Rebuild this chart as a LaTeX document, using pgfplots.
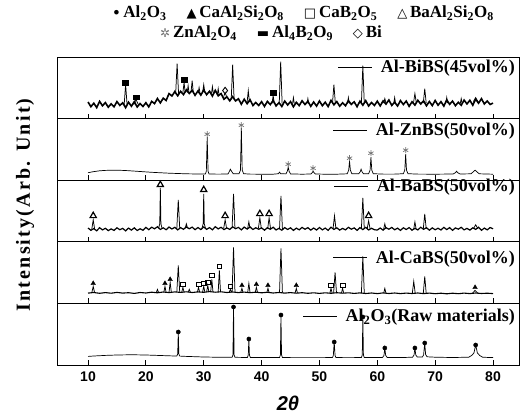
\documentclass[border=0pt]{standalone}
\usepackage{fontspec}
\setmainfont{Liberation Serif}
\newfontfamily\sans{Liberation Sans}
\newfontfamily\sym{DejaVu Sans}
\usepackage{pgfplots}
\pgfplotsset{compat=1.18}

\newcommand{\sy}[1]{{\sym\fontsize{13}{13}\selectfont #1}}

\pgfplotsset{
  panel/.style={
    scale only axis, width=462pt, height=61.6pt, anchor=south west,
    xmin=4.64, xmax=84.49, ymin=0, ymax=61.6,
    xtick={10,20,...,80}, xticklabels={}, ytick=\empty,
    xtick pos=bottom, tick align=inside, major tick length=5pt,
    tick style={black, line width=0.8pt},
    axis line style={line width=0.9pt},
    clip=false,
    legend style={at={(1,1)}, anchor=north east, xshift=-4pt,
      draw=none, fill=none, inner sep=0pt, column sep=8pt,
      nodes={inner sep=0pt},
      font=\bfseries\fontsize{18}{20}\selectfont},
    legend image code/.code={\draw[black, line width=0.7pt] (0pt,0pt) -- (34pt,0pt);},
  },
  dat/.style={black, line width=0.7pt, mark=none},
  pk/.style={black, line width=0.75pt, mark=none, unbounded coords=jump, forget plot},
  mAl/.style={only marks, mark=*, mark size=2.1pt, black, forget plot},
  mCa/.style={only marks, mark=triangle*, mark size=2.6pt, black, forget plot},
  mCaB/.style={only marks, mark=square, mark size=2.4pt, black, line width=0.8pt, fill=white, forget plot},
  mBa/.style={only marks, mark=triangle, mark size=3.6pt, black, line width=1.2pt, fill=white, forget plot},
  mZn/.style={only marks, mark=asterisk, mark size=3pt, black!55, line width=0.7pt, forget plot},
  mAlB/.style={only marks, mark=square*, mark size=3pt, black, forget plot,
    every mark/.append style={yscale=0.75}},
  mBi/.style={only marks, mark=diamond, mark size=3.3pt, black, line width=0.9pt, fill=white, forget plot},
}

\begin{document}
\begin{tikzpicture}
\path (0pt,0pt) rectangle (522pt,416pt);

% legend of phases
\node[font=\bfseries\fontsize{17}{20}\selectfont] at (303pt,403pt)
  {\sy{•}\,Al\textsubscript{2}O\textsubscript{3}\hspace{20pt}\sy{▲}\,CaAl\textsubscript{2}Si\textsubscript{2}O\textsubscript{8}\hspace{20pt}\sy{□}\,CaB\textsubscript{2}O\textsubscript{5}\hspace{20pt}\sy{△}\,BaAl\textsubscript{2}Si\textsubscript{2}O\textsubscript{8}};
\node[font=\bfseries\fontsize{17}{20}\selectfont] at (271pt,383pt)
  {{\sym\fontsize{12}{12}\selectfont\color{black!55}✲}\,ZnAl\textsubscript{2}O\textsubscript{4}\hspace{20pt}\sy{▬}\,Al\textsubscript{4}B\textsubscript{2}O\textsubscript{9}\hspace{20pt}\sy{◇}\,Bi};

\node[rotate=90, font={\fontsize{20}{24}\selectfont\bfseries\addfontfeatures{LetterSpace=11}}] at (25pt,211pt) {Intensity(Arb. Unit)};
\node[font={\sans\bfseries\itshape\fontsize{20}{24}\selectfont}] at (288pt,13pt) {2θ};

% ---------- Al2O3 raw ----------
\begin{axis}[panel, at={(57pt,51pt)},
  xticklabels={10,20,30,40,50,60,70,80},
  xticklabel style={font=\sans\bfseries\fontsize{14}{16}\selectfont, yshift=-3pt},
  legend style={yshift=-5.7pt}]
\addplot[dat] coordinates {
(10,8.6)(11,9.0)(12,9.3)(13,9.6)(14,9.8)(15,10.0)(16,10.1)(17,10.2)(18,10.2)(19,10.1)
(20,10.0)(21,9.8)(22,9.6)(23,9.4)(24,9.2)(25,9.0)(25.35,9.0)(25.5,11)(25.6,33)(25.7,11)(25.85,8.9)
(27,8.6)(28,8.4)(29,8.2)(30,8.0)(31,7.9)(32,7.8)(33,7.7)(34,7.7)(34.9,7.7)(35.05,10)(35.15,58)(35.25,10)(35.4,7.7)
(36.5,7.6)(37.55,7.6)(37.7,10)(37.8,26)(37.9,10)(38.05,7.6)(39,7.5)(40,7.5)(41,7.5)(42,7.5)
(43.1,7.5)(43.25,10)(43.35,50)(43.45,10)(43.6,7.5)(45,7.4)(47,7.4)(49,7.4)(51,7.4)
(52.25,7.5)(52.4,9.5)(52.55,23)(52.7,9.5)(52.85,7.5)(54,7.4)(56,7.4)
(57.25,7.5)(57.4,10)(57.5,48)(57.6,10)(57.75,7.5)(59,7.4)(60.9,7.6)(61.15,9.5)(61.3,17)(61.45,9.5)(61.7,7.6)
(63,7.5)(65,7.6)(66.1,7.8)(66.35,10)(66.5,17)(66.65,10)(66.9,8.0)(67.8,8.1)(68.0,10)(68.2,22)(68.35,10.5)(68.6,8.2)
(70,7.8)(72,7.6)(74,7.6)(75.8,7.8)(76.3,9.5)(76.7,12)(77.0,20)(77.3,12)(77.7,9.5)(78.2,7.8)(79,7.6)(80,7.6)
};
\addlegendentry{Al\textsubscript{2}O\textsubscript{3}(Raw materials)}
\addplot[mAl] coordinates {(25.6,33)(35.15,58)(37.8,26)(43.35,50)(52.55,23)(57.5,48)(61.3,17)(66.5,17)(68.2,22)(77.0,20)};
\end{axis}

% ---------- Al-CaBS ----------
\begin{axis}[panel, at={(57pt,112.6pt)}, legend style={yshift=-8.7pt}]
\addplot[dat, line width=1.1pt] coordinates {
(10,10.3)(11,10.9)(12,10.1)(13,10.8)(14,10.2)(15,11.0)(16,10.3)(17,10.7)(18,10.0)(19,10.9)
(20,10.4)(21,11.2)(22,10.6)(23,11.4)(24,10.8)(25,11.5)(26,11.0)(27,11.6)(28,10.9)(29,11.5)
(30,11.1)(31,11.8)(32,11.2)(33,11.6)(34,10.9)(35,11.4)(36,10.8)(37,11.3)(38,10.7)(39,11.2)
(40,10.6)(41,11.1)(42,10.4)(43,10.9)(44,10.3)(45,10.8)(46,10.2)(47,10.7)(48,10.1)(49,10.6)
(50,10.0)(51,10.6)(52,10.1)(53,10.7)(54,10.2)(55,10.6)(56,10.0)(57,10.5)(58,9.9)(59,10.4)
(60,9.8)(61,10.5)(62,9.9)(63,10.4)(64,9.8)(65,10.3)(66,9.9)(67,10.4)(68,9.8)(69,10.3)
(70,9.7)(71,10.2)(72,9.6)(73,10.2)(74,9.7)(75,10.3)(76,9.8)(77,10.4)(78,9.9)(79,10.2)(80,9.8)
};
\addlegendentry{Al-CaBS(50vol\%)}
\addplot[pk] coordinates {
(10.65,10.5)(10.9,17)(11.15,10.5)(10.9,nan)
(21.8,10.8)(22.0,14)(22.2,10.8)(22.0,nan)
(23.1,11)(23.3,17)(23.5,11)(23.3,nan)
(24.0,11)(24.2,21)(24.4,11)(24.2,nan)
(25.35,11.2)(25.6,38)(25.85,11.2)(25.6,nan)
(26.2,11.2)(26.4,16)(26.6,11.2)(26.4,nan)
(27.3,11.2)(27.5,14)(27.7,11.2)(27.5,nan)
(28.9,11.3)(29.1,16)(29.3,11.3)(29.1,nan)
(29.8,11.3)(30.0,17)(30.2,11.3)(30.0,nan)
(30.5,11.4)(30.7,18)(30.9,11.4)(30.7,nan)
(31.2,11.4)(31.4,24)(31.6,11.4)(31.4,nan)
(32.5,11.4)(32.7,33)(32.9,11.4)(32.7,nan)
(34.4,11.2)(34.6,14)(34.8,11.2)(34.6,nan)
(34.9,11.2)(35.15,56)(35.4,11.2)(35.15,nan)
(36.4,11)(36.6,15)(36.8,11)(36.6,nan)
(37.6,11)(37.8,20)(38.0,11)(37.8,nan)
(38.9,11)(39.1,16)(39.3,11)(39.1,nan)
(40.9,10.8)(41.1,15)(41.3,10.8)(41.1,nan)
(43.1,10.7)(43.35,55)(43.6,10.7)(43.35,nan)
(45.8,10.5)(46.0,15)(46.2,10.5)(46.0,nan)
(51.8,10.3)(52.0,15)(52.2,10.3)(52.0,nan)
(52.45,10.3)(52.7,31)(52.95,10.3)(52.7,nan)
(53.8,10.3)(54.0,15)(54.2,10.3)(54.0,nan)
(57.25,10.2)(57.5,47)(57.75,10.2)(57.5,nan)
(61.1,10.1)(61.3,15)(61.5,10.1)(61.3,nan)
(66.05,10.1)(66.3,22)(66.55,10.1)(66.3,nan)
(67.95,10.1)(68.2,27)(68.45,10.1)(68.2,nan)
(76.4,10)(76.9,13)(77.4,10)
};
\addplot[mCa] coordinates {(10.9,20)(23.3,20)(24.2,24)(36.6,18)(39.1,19)(41.1,18)(46.0,18)(76.9,16)};
\addplot[mCaB] coordinates {(26.4,19)(29.1,19)(30.0,20)(30.7,21)(31.4,28)(32.7,37)(34.6,17)(52.0,18)(54.0,18)};
\end{axis}

% ---------- Al-BaBS ----------
\begin{axis}[panel, at={(57pt,174.2pt)}, legend style={yshift=1.3pt}]
\addplot[dat, line width=1.2pt] coordinates {
(10.0,13.8)(10.5,11.45)(11.0,13.2)(11.5,11.0)(12.0,14.1)(12.5,11.9)(13.0,13.5)(13.5,11.2)(14.0,12.9)(14.5,11.4)
(15.0,14.0)(15.5,12.1)(16.0,13.4)(16.5,10.95)(17.0,13.7)(17.5,11.7)(18.0,13.95)(18.5,11.3)(19.0,13.05)(19.5,11.55)
(20.0,14.45)(20.5,12.1)(21.0,14.6)(21.5,13.0)(22.0,15.05)(22.5,12.35)(23.0,13.95)(23.5,12.05)(24.0,14.75)(24.5,12.8)
(25.0,14.5)(25.5,11.9)(26.0,14.15)(26.5,12.5)(27.0,14.9)(27.5,13.05)(28.0,14.65)(28.5,12.15)(29.0,14.3)(29.5,12.25)
(30.0,14.8)(30.5,12.45)(31.0,14.2)(31.5,12.0)(32.0,15.1)(32.5,12.9)(33.0,14.5)(33.5,12.2)(34.0,13.9)(34.5,12.4)
(35.0,15.0)(35.5,13.1)(36.0,14.4)(36.5,11.95)(37.0,14.7)(37.5,12.7)(38.0,14.95)(38.5,12.3)(39.0,14.05)(39.5,12.55)
(40.0,13.95)(40.5,11.6)(41.0,14.1)(41.5,12.5)(42.0,14.55)(42.5,11.85)(43.0,13.45)(43.5,11.55)(44.0,14.25)(44.5,12.3)
(45.0,14.0)(45.5,11.4)(46.0,13.65)(46.5,12.0)(47.0,14.4)(47.5,12.55)(48.0,14.15)(48.5,11.65)(49.0,13.8)(49.5,11.75)
(50.0,14.3)(50.5,11.95)(51.0,13.7)(51.5,11.5)(52.0,14.6)(52.5,12.4)(53.0,14.0)(53.5,11.7)(54.0,13.4)(54.5,11.9)
(55.0,14.5)(55.5,12.6)(56.0,13.9)(56.5,11.45)(57.0,14.2)(57.5,12.2)(58.0,14.45)(58.5,11.8)(59.0,13.55)(59.5,12.05)
(60.0,11.75)(60.5,13.8)(61.0,11.65)(61.5,14.15)(62.0,12.55)(62.5,14.4)(63.0,12.0)(63.5,13.65)(64.0,11.4)(64.5,14.0)
(65.0,12.3)(65.5,14.25)(66.0,11.55)(66.5,13.45)(67.0,11.85)(67.5,14.55)(68.0,12.5)(68.5,14.1)(69.0,11.6)(69.5,13.95)
(70.0,12.05)(70.5,13.55)(71.0,11.8)(71.5,14.45)(72.0,12.2)(72.5,14.2)(73.0,11.45)(73.5,13.9)(74.0,12.6)(74.5,14.5)
(75.0,11.9)(75.5,13.4)(76.0,11.7)(76.5,14.0)(77.0,12.4)(77.5,14.6)(78.0,11.5)(78.5,13.7)(79.0,11.95)(79.5,14.3)(80.0,13.0)
};
\addlegendentry{Al-BaBS(50vol\%)}
\addplot[pk] coordinates {
(10.65,12.5)(10.9,22)(11.15,12.5)(10.9,nan)
(22.2,13.5)(22.4,18)(22.5,54)(22.6,18)(22.8,13.5)(22.5,nan)
(25.35,13.5)(25.6,42)(25.85,13.5)(25.6,nan)
(26.8,13.5)(27.0,18)(27.2,13.5)(27.0,nan)
(29.7,13.5)(29.9,18)(30.0,48)(30.1,18)(30.3,13.5)(30.0,nan)
(33.45,13.5)(33.7,22)(33.95,13.5)(33.7,nan)
(34.9,13.5)(35.15,48)(35.4,13.5)(35.15,nan)
(37.6,13.5)(37.8,20)(38.0,13.5)(37.8,nan)
(39.45,13.5)(39.7,24)(39.95,13.5)(39.7,nan)
(41.05,13)(41.3,24)(41.55,13)(41.3,nan)
(43.1,13)(43.35,46)(43.6,13)(43.35,nan)
(52.35,13)(52.6,26)(52.85,13)(52.6,nan)
(57.25,13)(57.5,44)(57.75,13)(57.5,nan)
(58.25,13)(58.5,21)(58.75,13)(58.5,nan)
(61.1,13)(61.3,18)(61.5,13)(61.3,nan)
(66.3,13)(66.5,20)(66.7,13)(66.5,nan)
(67.95,13)(68.2,28)(68.45,13)(68.2,nan)
(76.6,13)(77.0,17)(77.4,13)
};
\addplot[mBa] coordinates {(10.9,26)(22.5,57)(30.0,52)(33.7,26)(39.7,28)(41.3,28)(58.5,26)};
\end{axis}

% ---------- Al-ZnBS ----------
\begin{axis}[panel, at={(57pt,235.8pt)}, legend style={yshift=-4.7pt}]
\addplot[dat] coordinates {
(10,7.5)(11,8.6)(12,9.4)(13,9.8)(14,10.0)(15,10.0)(16,9.8)(17,9.5)(18,9.1)(19,8.7)
(20,8.3)(21,7.9)(22,7.6)(23,7.3)(24,7.0)(25,6.8)(26,6.6)(27,6.4)(28,6.3)(29,6.2)(30,6.1)
(30.3,6.3)(30.45,9)(30.6,43)(30.75,9)(30.9,6.3)(32,6.1)(33,6.1)(34.2,6.3)(34.45,9)(34.6,11)(34.8,9)(35.1,6.4)
(36.1,6.5)(36.35,10)(36.5,52)(36.65,10)(36.9,6.5)(38,6.1)(40,6.0)(42,6.0)(42.9,6.5)(43.1,8)(43.3,6.5)
(44.2,6.3)(44.45,9)(44.6,13)(44.75,9)(45.0,6.3)(47,6.0)(48.5,6.2)(48.75,7.5)(48.9,9)(49.05,7.5)(49.3,6.2)
(51,6.0)(53,6.0)(54.8,6.4)(55.05,10)(55.2,19)(55.35,10)(55.6,6.4)(56.8,6.5)(57.05,8.5)(57.2,11)(57.35,8.5)(57.6,6.5)
(58.5,6.5)(58.75,10)(58.9,23)(59.05,10)(59.3,6.5)(61,6.1)(63,6.1)(64.5,6.5)(64.75,10)(64.9,26)(65.05,10)(65.3,6.5)
(67,6.1)(70,6.0)(73.1,6.2)(73.5,7.5)(73.7,9)(73.9,7.5)(74.3,6.2)(76.2,6.4)(76.6,8.5)(76.9,10)(77.2,8.5)(77.6,6.4)(80,6.0)
};
\addlegendentry{Al-ZnBS(50vol\%)}
\addplot[mZn] coordinates {(30.6,46)(36.5,55)(44.6,16)(48.9,12)(55.2,22)(58.9,27)(64.9,30)};
\end{axis}

% ---------- Al-BiBS ----------
\begin{axis}[panel, at={(57pt,297.4pt)}, legend style={yshift=-2.7pt}]
\addplot[dat, line width=1.6pt] coordinates {
(10.0,16.6)(10.5,11.9)(11.0,15.4)(11.5,11.0)(12.0,17.2)(12.5,12.8)(13.0,16.0)(13.5,11.4)(14.0,14.8)(14.5,11.8)
(15.0,17.0)(15.5,13.2)(16.0,15.8)(16.5,10.9)(17.0,16.4)(17.5,12.4)(18.0,16.9)(18.5,11.6)(19.0,15.1)(19.5,12.1)
(20.0,15.9)(20.5,11.7)(21.0,17.2)(21.5,15.0)(22.0,20.1)(22.5,15.7)(23.0,20.4)(23.5,18.1)(24.0,25.0)(24.5,22.6)
(25.0,27.0)(25.5,22.8)(26.0,27.3)(26.5,24.0)(27.0,28.8)(27.5,25.1)(28.0,28.3)(28.5,23.3)(29.0,27.6)(29.5,23.5)
(30.0,28.6)(30.5,23.9)(31.0,27.4)(31.5,22.5)(32.0,28.2)(32.5,22.8)(33.0,25.0)(33.5,19.4)(34.0,21.8)(34.5,17.8)
(35.0,22.0)(35.5,17.7)(36.0,19.8)(36.5,14.4)(37.0,19.4)(37.5,14.9)(38.0,18.9)(38.5,13.1)(39.0,16.1)(39.5,13.1)
(40.0,16.9)(40.5,12.2)(41.0,17.2)(41.5,14.0)(42.0,18.1)(42.5,12.7)(43.0,15.9)(43.5,12.1)(44.0,17.5)(44.5,13.6)
(45.0,17.0)(45.5,11.8)(46.0,16.3)(46.5,13.0)(47.0,17.8)(47.5,14.1)(48.0,17.3)(48.5,12.3)(49.0,16.6)(49.5,12.5)
(50.0,17.6)(50.5,12.9)(51.0,16.4)(51.5,12.0)(52.0,18.2)(52.5,13.8)(53.0,17.0)(53.5,12.4)(54.0,15.8)(54.5,12.8)
(55.0,18.0)(55.5,14.2)(56.0,16.8)(56.5,11.9)(57.0,17.4)(57.5,13.4)(58.0,17.9)(58.5,12.6)(59.0,16.1)(59.5,13.1)
(60.0,17.4)(60.5,12.7)(61.0,17.7)(61.5,14.5)(62.0,18.6)(62.5,13.2)(63.0,16.4)(63.5,12.6)(64.0,18.0)(64.5,14.1)
(65.0,17.5)(65.5,12.3)(66.0,16.8)(66.5,13.5)(67.0,18.3)(67.5,14.6)(68.0,17.8)(68.5,12.8)(69.0,17.1)(69.5,13.0)
(70.0,18.1)(70.5,13.4)(71.0,16.9)(71.5,12.5)(72.0,18.7)(72.5,14.3)(73.0,17.5)(73.5,12.9)(74.0,16.3)(74.5,13.3)
(75.0,18.5)(75.5,14.7)(76.0,18.3)(76.5,13.4)(77.0,19.4)(77.5,15.4)(78.0,19.9)(78.5,14.6)(79.0,17.6)(79.5,14.1)(80.0,15.5)
};
\addlegendentry{Al-BiBS(45vol\%)}
\addplot[pk] coordinates {
(16.25,14)(16.5,34)(16.75,14)(16.5,nan)
(17.9,14)(18.3,19)(18.7,14)(18.3,nan)
(25.15,25)(25.4,55)(25.65,25)(25.4,nan)
(26.4,26)(26.6,36)(26.8,26)(26.6,nan)
(27.15,26)(27.3,33)(27.45,26)(27.3,nan)
(27.8,26)(28.0,38)(28.2,26)(28.0,nan)
(29.05,26)(29.2,31)(29.35,26)(29.2,nan)
(29.8,26)(30.0,34)(30.2,26)(30.0,nan)
(31.35,25.5)(31.5,32)(31.65,25.5)(31.5,nan)
(32.35,24)(32.5,30)(32.65,24)(32.5,nan)
(33.45,22)(33.7,26)(33.95,22)(33.7,nan)
(34.75,19)(35.0,54)(35.25,19)(35.0,nan)
(37.5,16.5)(37.7,28)(37.9,16.5)(37.7,nan)
(41.8,15)(42.0,23)(42.2,15)(42.0,nan)
(43.05,15)(43.3,57)(43.55,15)(43.3,nan)
(45.35,15)(45.5,21)(45.65,15)(45.5,nan)
(47.85,15)(48.0,20)(48.15,15)(48.0,nan)
(52.25,15)(52.5,34)(52.75,15)(52.5,nan)
(54.85,15)(55.0,21)(55.15,15)(55.0,nan)
(57.25,15)(57.5,53)(57.75,15)(57.5,nan)
(61.1,15.5)(61.3,20)(61.5,15.5)(61.3,nan)
(62.85,15.5)(63.0,21)(63.15,15.5)(63.0,nan)
(66.25,15.5)(66.5,25)(66.75,15.5)(66.5,nan)
(67.95,15.5)(68.2,30)(68.45,15.5)(68.2,nan)
(71.85,15.5)(72.0,21)(72.15,15.5)(72.0,nan)
(74.35,15.5)(74.5,20)(74.65,15.5)(74.5,nan)
(76.6,17)(77.0,21)(77.4,17)
};
\addplot[mAlB] coordinates {(16.5,36)(18.3,21.5)(26.6,39)(42.0,26)};
\addplot[mBi] coordinates {(33.7,28)};
\end{axis}
\end{tikzpicture}
\end{document}
